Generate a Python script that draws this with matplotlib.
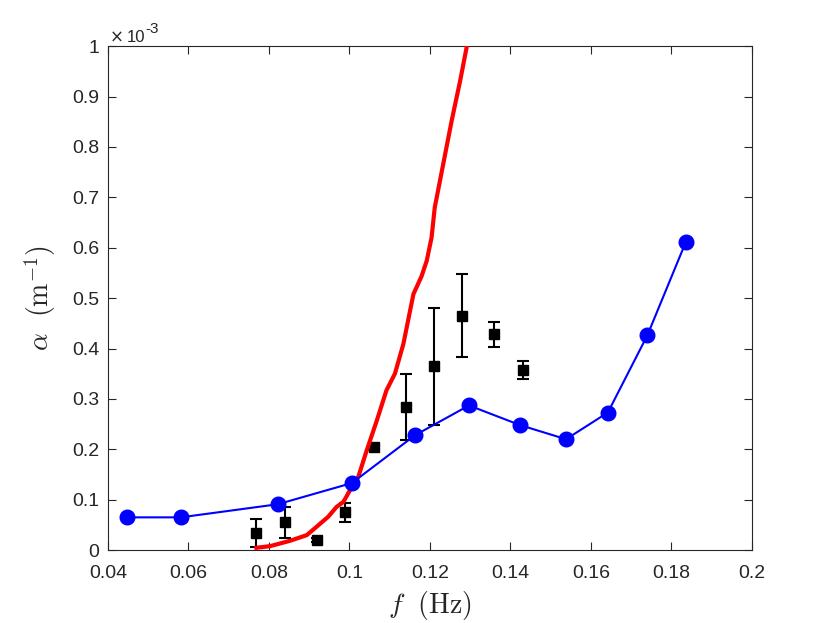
import matplotlib
matplotlib.use("Agg")
import matplotlib.pyplot as plt
from matplotlib.ticker import FuncFormatter

plt.rcParams['font.family'] = ['Liberation Sans', 'DejaVu Sans']
plt.rcParams['mathtext.fontset'] = 'cm'

# model curve (blue)
model_f = [0.0447, 0.0581, 0.0822, 0.1006, 0.1163, 0.1297, 0.1424, 0.1538, 0.1642, 0.1740, 0.1836]
model_alpha = [0.065e-3, 0.065e-3, 0.091e-3, 0.133e-3, 0.228e-3, 0.287e-3, 0.248e-3,
               0.220e-3, 0.273e-3, 0.426e-3, 0.612e-3]

# theory curve (red)
theory_f = [0.0769, 0.0803, 0.0852, 0.0894, 0.0923, 0.0947, 0.0968, 0.0985, 0.1006, 0.1022,
            0.1043, 0.1068, 0.1092, 0.1113, 0.1134, 0.1159, 0.1179, 0.1192, 0.1204, 0.1212,
            0.1233, 0.1254, 0.1275, 0.1291, 0.1305]
theory_alpha = [0.0046e-3, 0.0079e-3, 0.0184e-3, 0.0297e-3, 0.0495e-3, 0.0659e-3, 0.0857e-3,
                0.0956e-3, 0.1254e-3, 0.1452e-3, 0.198e-3, 0.257e-3, 0.317e-3, 0.350e-3,
                0.409e-3, 0.508e-3, 0.543e-3, 0.574e-3, 0.620e-3, 0.680e-3, 0.766e-3,
                0.852e-3, 0.931e-3, 0.997e-3, 1.06e-3]

# measurements (black squares with error bars)
meas_f = [0.0769, 0.0840, 0.0920, 0.0990, 0.1060, 0.1140, 0.1210, 0.1280, 0.1360, 0.1430]
meas_alpha = [0.034e-3, 0.055e-3, 0.020e-3, 0.075e-3, 0.205e-3, 0.284e-3, 0.365e-3,
              0.465e-3, 0.428e-3, 0.358e-3]
meas_err = [0.027e-3, 0.031e-3, 0.004e-3, 0.019e-3, 0.006e-3, 0.065e-3, 0.116e-3,
            0.082e-3, 0.025e-3, 0.018e-3]

fig = plt.figure(figsize=(8.3, 6.23), dpi=100)
ax = fig.add_axes([0.130, 0.117, 0.776, 0.809])

ax.errorbar(meas_f, meas_alpha, yerr=meas_err, fmt='s', color='black', markersize=7.5,
            elinewidth=1.5, capsize=4, capthick=1.5, zorder=3)
ax.plot(theory_f, theory_alpha, color='red', linewidth=3, zorder=4)
ax.plot(model_f, model_alpha, color='blue', linewidth=1.5, marker='o', markersize=10.5, zorder=5)

ax.set_xlim(0.04, 0.2)
ax.set_ylim(0, 1e-3)
ax.set_xticks([0.04, 0.06, 0.08, 0.1, 0.12, 0.14, 0.16, 0.18, 0.2])
ax.set_yticks([i * 1e-4 for i in range(11)])
ax.xaxis.set_major_formatter(FuncFormatter(lambda v, p: '%g' % round(v, 4)))
ax.yaxis.set_major_formatter(FuncFormatter(lambda v, p: '%g' % round(v * 1e3, 4)))

gray = '#262626'
ax.tick_params(direction='in', length=6, width=0.8, colors=gray, labelsize=14,
               top=True, right=True)
ax.tick_params(axis='x', pad=11)
ax.tick_params(axis='y', pad=6)
for s in ax.spines.values():
    s.set_color(gray)
    s.set_linewidth(0.8)

ax.set_xlabel(r'$f\ \ (\mathrm{Hz})$', fontsize=20, color=gray, labelpad=5)
ax.set_ylabel(r'$\alpha\ \ (\mathrm{m}^{-1})$', fontsize=20, color=gray, labelpad=10)

# exponent label, MATLAB style
ax.text(0.003, 1.008, '×', transform=ax.transAxes, fontsize=12, color=gray,
        family='DejaVu Sans', ha='left', va='baseline')
ax.text(0.0295, 1.008, '10', transform=ax.transAxes, fontsize=12, color=gray,
        ha='left', va='baseline')
ax.text(0.0575, 1.026, '-3', transform=ax.transAxes, fontsize=11, color=gray,
        ha='left', va='baseline')

fig.savefig('out.png', dpi=100)
